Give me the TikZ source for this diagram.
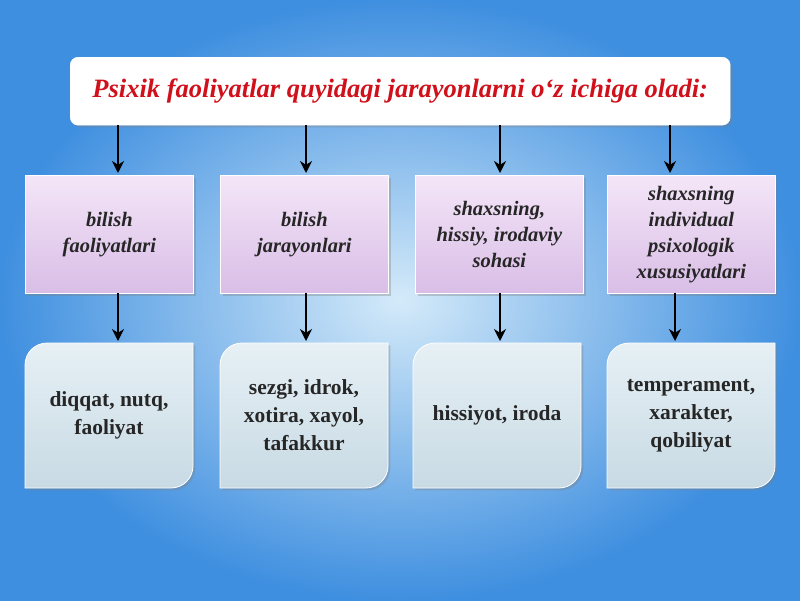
\documentclass[tikz,border=0pt]{standalone}
\usepackage{fontspec}
\setmainfont{Liberation Serif}
\usetikzlibrary{shadows,arrows.meta}
\definecolor{bgedge}{HTML}{3F8FE0}
\definecolor{bgmid}{HTML}{D4EAF9}
\definecolor{lavtop}{HTML}{F4E6F8}
\definecolor{lavbot}{HTML}{D9BDE6}
\definecolor{btop}{HTML}{E6F0F5}
\definecolor{bbot}{HTML}{C8DAE4}
\definecolor{titlered}{HTML}{D0101A}
\tikzset{
  cat/.style={draw=white, line width=0.8pt, top color=lavtop, bottom color=lavbot,
    drop shadow={opacity=0.35}, font=\fontsize{20.5}{26}\selectfont\bfseries\itshape,
    align=center, text=black!85},
  res/.style={draw=white, line width=0.8pt, top color=btop, bottom color=bbot,
    drop shadow={opacity=0.35}},
  restext/.style={font=\fontsize{21.5}{28}\selectfont\bfseries, align=center, text=black!85},
  arr/.style={-{Stealth[length=12pt,width=12pt]}, line width=2pt, black}
}
\begin{document}
\begin{tikzpicture}[x=1pt,y=-1pt]
\useasboundingbox (0,0) rectangle (800,600);
\shade[inner color=bgmid, outer color=bgedge] (0,0) rectangle (800,600);
\node[draw=white, fill=white, rounded corners=8pt, drop shadow={opacity=0.35},
  minimum width=660pt, minimum height=68pt, anchor=north west,
  font=\fontsize{26.5}{30}\selectfont\bfseries\itshape, text=titlered] (title) at (70,57)
  {Psixik faoliyatlar quyidagi jarayonlarni o‘z ichiga oladi:};
\foreach \i/\x/\t in {1/25/{bilish\\faoliyatlari},2/220/{bilish\\jarayonlari},3/415/{shaxsning,\\hissiy, irodaviy\\sohasi},4/607/{shaxsning\\individual\\psixologik\\xususiyatlari}}{
  \node[cat, minimum width=168pt, minimum height=118pt, anchor=north west] (c\i) at (\x,175) {\t};
}
\foreach \i/\x/\t in {1/25/{diqqat, nutq,\\faoliyat},2/220/{sezgi, idrok,\\xotira, xayol,\\tafakkur},3/413/{hissiyot, iroda},4/607/{temperament,\\xarakter,\\qobiliyat}}{
  \path[res] (\x,365) arc[start angle=180, end angle=90, radius=22pt]
    -- (\x+168,343) -- (\x+168,466) arc[start angle=0, end angle=-90, radius=22pt]
    -- (\x,488) -- cycle;
  \node[restext] (r\i) at (\x+84,415.5) {\t};
}
\foreach \i/\x/\y in {1/118/118,2/306/306,3/500/500,4/670/675}{
  \coordinate (ts\i) at (\x,125);
  \coordinate (te\i) at (\x,173);
  \draw[arr] (ts\i) -- (te\i);
  \coordinate (ms\i) at (\y,293);
  \coordinate (me\i) at (\y,341);
  \draw[arr] (ms\i) -- (me\i);
}
\end{tikzpicture}
\end{document}
